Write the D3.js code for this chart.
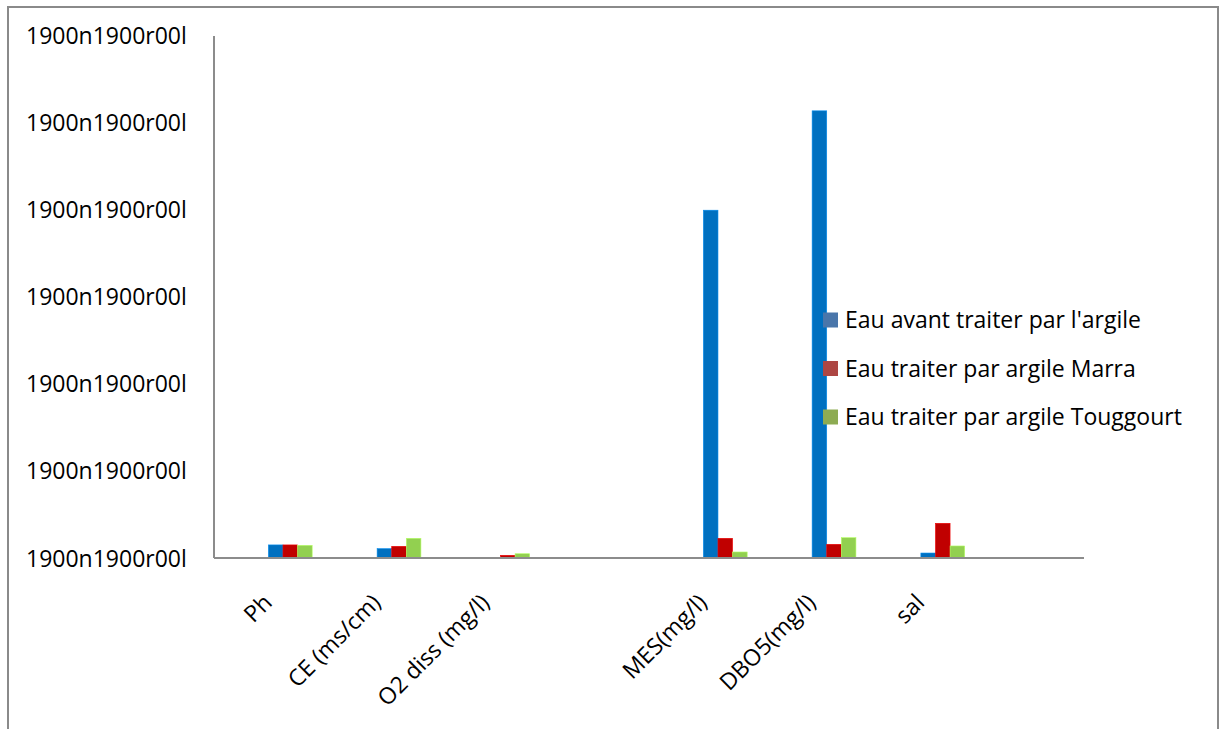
<!DOCTYPE html>
<html>
<head>
<meta charset="utf-8">
<script src="https://cdn.jsdelivr.net/npm/d3@7"></script>
<style>
  body { margin: 0; background: #fff; }
  text { font-family: "Open Sans", sans-serif; fill: #000; }
</style>
</head>
<body>
<div id="chart"></div>
<script>
// data (units: 1 tick = 100)
var categories = ["Ph", "CE (ms/cm)", "O2 diss (mg/l)", "", "MES(mg/l)", "DBO5(mg/l)", "sal", ""];
var seriesNames = ["Eau avant traiter par l'argile", "Eau traiter par argile Marra", "Eau traiter par argile Touggourt"];
var avant    = [15, 10.7, 0,   0, 399,  513,  5.7, 0];
var marra    = [15, 13.4, 3.1, 0, 22.6, 15.7, 39.8, 0];
var touggourt= [14.5, 22.6, 4.9, 0, 6.9, 23.3, 13.8, 0];
var yTicks = [0, 100, 200, 300, 400, 500, 600];
var yTickLabel = "1900n1900r00l";

var barColors = ["#0070C0", "#C00000", "#92D050"];
var legendColors = ["#4a76aa", "#ad4643", "#8dab52"];

var W = 1226, H = 729;
var plotLeft = 214, plotRight = 1084, plotTop = 35, plotBottom = 558;

var svg = d3.select("#chart").append("svg")
    .attr("width", W)
    .attr("height", H);

// outer frame (bottom edge runs off the picture)
svg.append("path")
    .attr("d", "M8,740 L8,7 L1218,7 L1218,740")
    .attr("fill", "none")
    .attr("stroke", "#8a8a8a")
    .attr("stroke-width", 2);

var x = d3.scaleBand()
    .domain(d3.range(categories.length))
    .range([plotLeft, plotRight]);

var y = d3.scaleLinear()
    .domain([0, 600])
    .range([plotBottom, plotTop]);

var xSub = d3.scaleBand()
    .domain([0, 1, 2])
    .range([0, 43.8]);

var series = [avant, marra, touggourt];

// bars
series.forEach(function(vals, s) {
  svg.append("g")
    .selectAll("rect")
    .data(vals)
    .enter()
    .append("rect")
      .attr("x", function(d, i) { return x(i) + x.bandwidth() / 2 + xSub(s); })
      .attr("y", function(d) { return y(d); })
      .attr("width", xSub.bandwidth())
      .attr("height", function(d) { return y(0) - y(d); })
      .attr("fill", barColors[s])
      .attr("stroke", d3.color(barColors[s]).brighter(0.6))
      .attr("stroke-width", 0.6)
      .attr("display", function(d) { return d > 0 ? null : "none"; });
});

// Y axis
var yAxis = svg.append("g")
    .attr("transform", "translate(" + plotLeft + ",0)")
    .call(d3.axisLeft(y).tickValues(yTicks).tickSize(0).tickFormat(function() { return yTickLabel; }));
yAxis.select(".domain").attr("stroke", "#8c8c8c").attr("stroke-width", 2)
    .attr("d", "M0," + (plotTop + 1) + "V" + plotBottom);
yAxis.selectAll("text")
    .attr("text-anchor", "start")
    .attr("x", 26 - plotLeft)
    .attr("dy", "0.35em")
    .style("font-size", "23px")
    .style("font-family", "'Open Sans', sans-serif");

// X axis
var xAxis = svg.append("g")
    .attr("transform", "translate(0," + plotBottom + ")")
    .call(d3.axisBottom(x).tickSize(0).tickFormat(function(i) { return categories[i]; }));
xAxis.select(".domain").attr("stroke", "#8c8c8c").attr("stroke-width", 2)
    .attr("d", "M" + plotLeft + ",0H" + plotRight);
xAxis.selectAll("text")
    .attr("text-anchor", "end")
    .attr("y", 0)
    .attr("dy", 0)
    .attr("transform", "translate(5,46) rotate(-45)")
    .style("font-size", "23px")
    .style("font-family", "'Open Sans', sans-serif");

// legend
var legend = svg.append("g")
    .attr("transform", "translate(823,320)");
var rows = legend.selectAll("g")
    .data(seriesNames)
    .enter()
    .append("g")
    .attr("transform", function(d, i) { return "translate(0," + i * 48.5 + ")"; });
rows.append("rect")
    .attr("x", 0)
    .attr("y", -7.5)
    .attr("width", 15)
    .attr("height", 15)
    .attr("fill", function(d, i) { return legendColors[i]; });
rows.append("text")
    .attr("x", 22)
    .attr("dy", "0.36em")
    .style("font-size", "23px")
    .text(function(d) { return d; });
</script>
</body>
</html>
